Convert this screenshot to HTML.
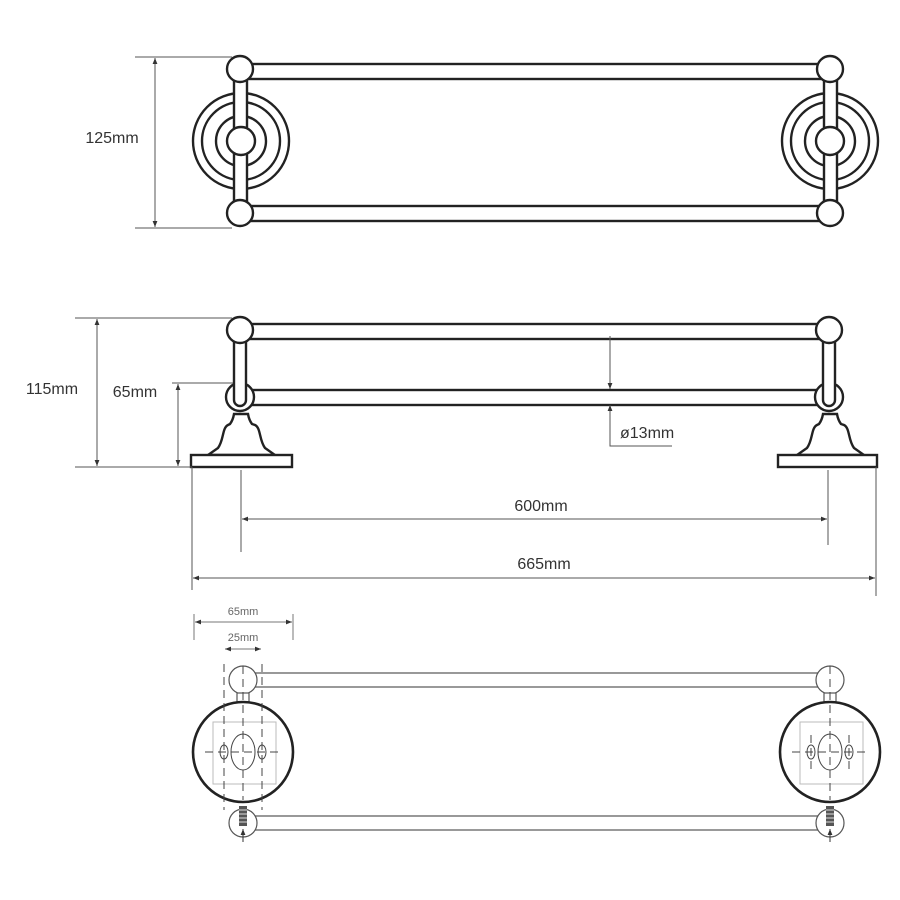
<!DOCTYPE html>
<html><head><meta charset="utf-8"><style>
html,body{margin:0;padding:0;background:#fff;}
svg{display:block;}
text{font-family:"Liberation Sans",sans-serif;fill:#333;}
</style></head><body>
<svg width="900" height="900" viewBox="0 0 900 900" xmlns="http://www.w3.org/2000/svg">
<defs>
<marker id="a" viewBox="0 0 10 10" refX="10" refY="5" markerWidth="6" markerHeight="6" orient="auto-start-reverse"><path d="M0,1 L10,5 L0,9 z" fill="#333"/></marker>
</defs>

<!-- ===== TOP VIEW ===== -->
<g stroke="#222" stroke-width="2.4" fill="#fff">
  <!-- rosettes -->
  <circle cx="241" cy="141" r="48"/><circle cx="241" cy="141" r="39"/><circle cx="241" cy="141" r="25"/>
  <circle cx="830" cy="141" r="48"/><circle cx="830" cy="141" r="39"/><circle cx="830" cy="141" r="25"/>
  <!-- posts -->
  <rect x="234" y="75" width="13" height="132"/>
  <rect x="824" y="75" width="13" height="132"/>
  <circle cx="241" cy="141" r="14"/><circle cx="830" cy="141" r="14"/>
  <!-- rails -->
  <rect x="250" y="64" width="572" height="15"/>
  <rect x="250" y="206" width="572" height="15"/>
  <circle cx="240" cy="69" r="13"/><circle cx="830" cy="69" r="13"/>
  <circle cx="240" cy="213" r="13"/><circle cx="830" cy="213" r="13"/>
</g>
<g stroke="#555" stroke-width="1">
  <line x1="135" y1="57" x2="232" y2="57"/><line x1="135" y1="228" x2="232" y2="228"/>
  <line x1="155" y1="58" x2="155" y2="227" marker-start="url(#a)" marker-end="url(#a)"/>
</g>
<text x="112" y="143" font-size="16" text-anchor="middle">125mm</text>

<!-- ===== FRONT VIEW ===== -->
<g stroke="#222" stroke-width="2.4" fill="#fff">
  <rect x="250" y="324" width="572" height="15"/>
  <rect x="250" y="390" width="572" height="15"/>
  <!-- left -->
  <path d="M234,414 Q233,420 230,424 L228,425 C222,428 224,440 218,448 L208,455 L275,455 L265,448 C259,440 261,428 255,425 L252,424 Q249,420 248,414 Z"/>
  <rect x="191" y="455" width="101" height="12"/>
  <circle cx="240" cy="397" r="14"/>
  <rect x="234" y="336" width="12" height="70" rx="6"/>
  <circle cx="240" cy="330" r="13"/>
  <!-- right -->
  <path d="M823,414 Q822,420 819,424 L817,425 C811,428 813,440 807,448 L797,455 L864,455 L854,448 C848,440 850,428 844,425 L841,424 Q838,420 837,414 Z"/>
  <rect x="778" y="455" width="99" height="12"/>
  <circle cx="829" cy="397" r="14"/>
  <rect x="823" y="336" width="12" height="70" rx="6"/>
  <circle cx="829" cy="330" r="13"/>
</g>
<g stroke="#555" stroke-width="1" fill="none">
  <line x1="75" y1="318" x2="232" y2="318"/><line x1="75" y1="467" x2="192" y2="467"/>
  <line x1="97" y1="319" x2="97" y2="466" marker-start="url(#a)" marker-end="url(#a)"/>
  <line x1="172" y1="383" x2="233" y2="383"/>
  <line x1="178" y1="384" x2="178" y2="466" marker-start="url(#a)" marker-end="url(#a)"/>
  <line x1="610" y1="336" x2="610" y2="389" marker-end="url(#a)"/>
  <polyline points="610,405 610,446 672,446" marker-start="url(#a)"/>
  <line x1="241" y1="470" x2="241" y2="552"/><line x1="828" y1="470" x2="828" y2="545"/>
  <line x1="242" y1="519" x2="827" y2="519" marker-start="url(#a)" marker-end="url(#a)"/>
  <line x1="192" y1="467" x2="192" y2="590"/><line x1="876" y1="467" x2="876" y2="596"/>
  <line x1="193" y1="578" x2="875" y2="578" marker-start="url(#a)" marker-end="url(#a)"/>
</g>
<text x="135" y="397" font-size="16" text-anchor="middle">65mm</text>
<text x="52" y="394" font-size="16" text-anchor="middle">115mm</text>
<text x="620" y="438" font-size="16">ø13mm</text>
<text x="541" y="511" font-size="16" text-anchor="middle">600mm</text>
<text x="544" y="569" font-size="16" text-anchor="middle">665mm</text>

<!-- ===== BOTTOM VIEW ===== -->
<g stroke="#777" stroke-width="1" fill="none">
  <line x1="194" y1="614" x2="194" y2="640"/><line x1="293" y1="614" x2="293" y2="640"/>
  <line x1="195" y1="622" x2="292" y2="622" marker-start="url(#a)" marker-end="url(#a)"/>
  <line x1="225" y1="649" x2="261" y2="649" marker-start="url(#a)" marker-end="url(#a)"/>
</g>
<text x="243" y="615" font-size="11" text-anchor="middle" style="fill:#666">65mm</text>
<text x="243" y="641" font-size="11" text-anchor="middle" style="fill:#666">25mm</text>

<g stroke="#555" stroke-width="1.2" fill="#fff">
  <rect x="254" y="673" width="566" height="14"/>
  <rect x="254" y="816" width="566" height="14"/>
  <circle cx="243" cy="680" r="14"/><circle cx="830" cy="680" r="14"/>
  <circle cx="243" cy="823" r="14"/><circle cx="830" cy="823" r="14"/>
  <rect x="237" y="693" width="12" height="12"/><rect x="824" y="693" width="12" height="12"/>
</g>
<g stroke="#222" stroke-width="2.6" fill="#fff">
  <circle cx="243" cy="752" r="50"/><circle cx="830" cy="752" r="50"/>
</g>
<g stroke="#bbb" stroke-width="1" fill="none">
  <rect x="213" y="722" width="63" height="62"/><rect x="800" y="722" width="63" height="62"/>
</g>
<g stroke="#444" stroke-width="1" fill="none">
  <ellipse cx="243" cy="752" rx="12" ry="18"/><ellipse cx="224" cy="752" rx="4" ry="7"/><ellipse cx="262" cy="752" rx="4" ry="7"/>
  <ellipse cx="830" cy="752" rx="12" ry="18"/><ellipse cx="811" cy="752" rx="4" ry="7"/><ellipse cx="849" cy="752" rx="4" ry="7"/>
</g>
<g stroke="#444" stroke-width="1" stroke-dasharray="8,5" fill="none">
  <line x1="243" y1="666" x2="243" y2="800"/><line x1="224" y1="664" x2="224" y2="810"/><line x1="262" y1="664" x2="262" y2="810"/>
  <line x1="205" y1="752" x2="281" y2="752"/>
  <line x1="830" y1="666" x2="830" y2="800"/><line x1="811" y1="735" x2="811" y2="770"/><line x1="849" y1="735" x2="849" y2="770"/>
  <line x1="792" y1="752" x2="868" y2="752"/>
</g>
<g fill="#555">
  <rect x="239" y="806" width="8" height="20"/><rect x="826" y="806" width="8" height="20"/>
</g>
<g stroke="#ddd" stroke-width="1">
  <line x1="239" y1="810" x2="247" y2="810"/><line x1="239" y1="814" x2="247" y2="814"/><line x1="239" y1="818" x2="247" y2="818"/><line x1="239" y1="822" x2="247" y2="822"/>
  <line x1="826" y1="810" x2="834" y2="810"/><line x1="826" y1="814" x2="834" y2="814"/><line x1="826" y1="818" x2="834" y2="818"/><line x1="826" y1="822" x2="834" y2="822"/>
</g>
<g stroke="#333" stroke-width="1">
  <line x1="243" y1="842" x2="243" y2="829" marker-end="url(#a)"/>
  <line x1="830" y1="842" x2="830" y2="829" marker-end="url(#a)"/>
</g>
</svg>
</body></html>
